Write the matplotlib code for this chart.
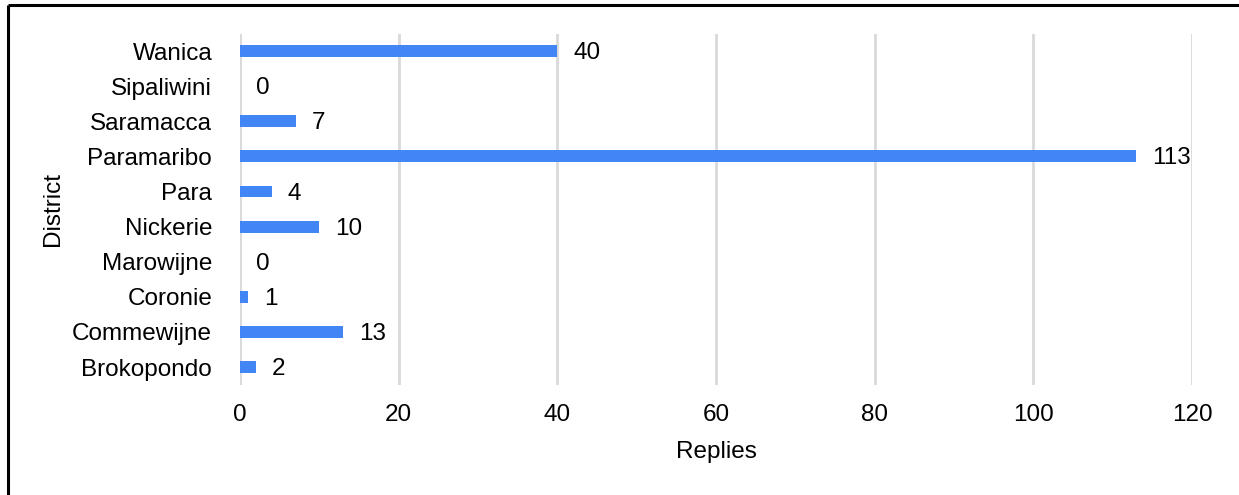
import matplotlib
matplotlib.use("Agg")
import matplotlib.pyplot as plt
from matplotlib.lines import Line2D

districts = ["Brokopondo", "Commewijne", "Coronie", "Marowijne", "Nickerie",
             "Para", "Paramaribo", "Saramacca", "Sipaliwini", "Wanica"]
replies = [2, 13, 1, 0, 10, 4, 113, 7, 0, 40]
x_ticks = [0, 20, 40, 60, 80, 100, 120]

plt.rcParams['font.family'] = ['Liberation Sans', 'DejaVu Sans']

W, H = 1239, 495
FS = 17.5
fig = plt.figure(figsize=(W / 100, H / 100), dpi=100)
ax = fig.add_axes([240 / W, 1 - 384.6 / H, (1192 - 240) / W, (384.6 - 33.5) / H])

bar_color = "#4285F4"
ax.barh(range(len(districts)), replies, height=0.34, color=bar_color, zorder=3)
for i, v in enumerate(replies):
    ax.text(v + 2.0, i - 0.06, str(v), va="center", ha="left", fontsize=FS, color="#000000")

ax.set_xlim(0, 120)
ax.set_ylim(-0.5, len(districts) - 0.5)
ax.set_xticks(x_ticks)
ax.set_xticklabels([str(t) for t in x_ticks], fontsize=FS)
ax.set_yticks(range(len(districts)))
ax.set_yticklabels(districts, fontsize=FS)
ax.tick_params(axis="both", length=0)
ax.tick_params(axis="y", pad=20)
ax.tick_params(axis="x", pad=14)
ax.grid(axis="x", color="#d9d9d9", linewidth=2, zorder=0)
for s in ax.spines.values():
    s.set_visible(False)

ax.set_xlabel("Replies", fontsize=FS, labelpad=11)
ax.set_ylabel("District", fontsize=FS, labelpad=6)

# frame lines (top and left)
fig.add_artist(Line2D([8 / W, 1], [1 - 5 / H, 1 - 5 / H], transform=fig.transFigure,
                      color="black", linewidth=2.2, solid_capstyle="butt"))
fig.add_artist(Line2D([8 / W, 8 / W], [0, 1 - 5 / H], transform=fig.transFigure,
                      color="black", linewidth=2.2, solid_capstyle="butt"))

fig.savefig("out.png", dpi=100)
